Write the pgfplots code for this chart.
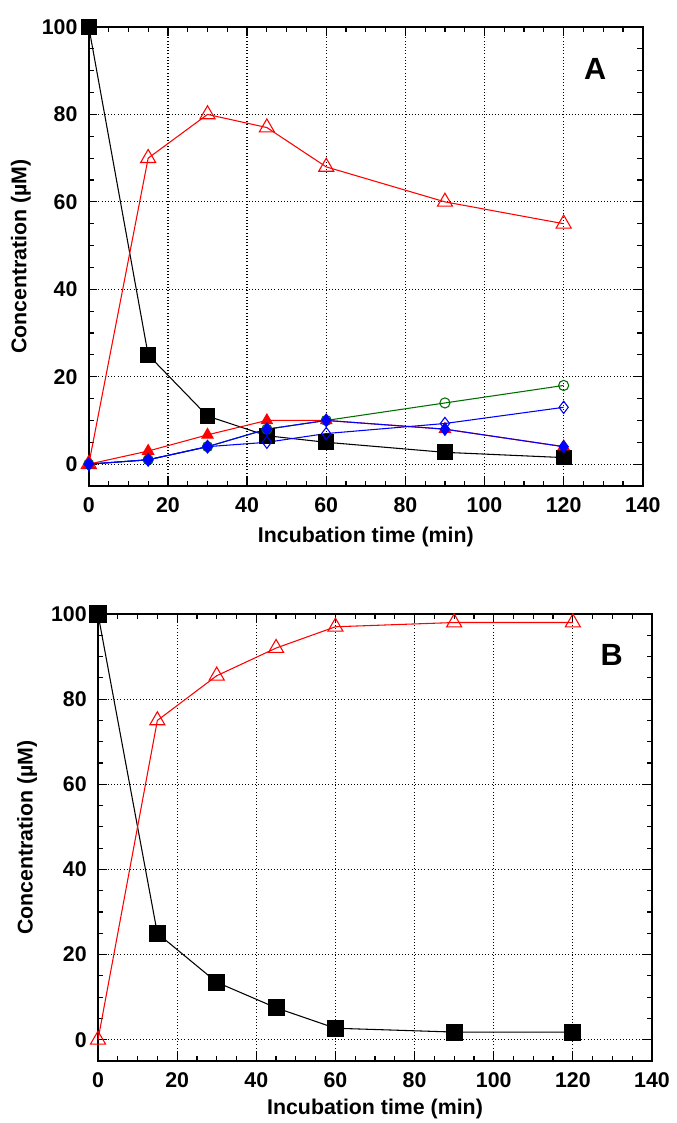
\documentclass[border=0pt]{standalone}
\usepackage{pgfplots}
\pgfplotsset{compat=1.18}
\usepackage{fontspec}
\setmainfont{Liberation Sans}
\definecolor{dgreen}{RGB}{0,110,0}
\pgfplotsset{
  myaxis/.style={
    scale only axis, clip=false,
    xmin=0, xmax=140, ymin=-5, ymax=100,
    xtick={0,20,...,140}, ytick={0,20,...,100},
    minor x tick num=3, minor y tick num=3,
    tick align=inside, tick pos=both, ticklabel pos=left,
    major tick length=6.5pt, minor tick length=4pt,
    grid=major,
    major grid style={black, dotted, line width=0.9pt},
    axis line style={line width=1.2pt},
    tick style={black, line width=0.9pt},
    /pgf/number format/assume math mode=true,
    every tick label/.append style={font=\fontsize{16}{19}\selectfont\bfseries},
    xticklabel style={yshift=-5pt},
    yticklabel style={xshift=-5pt},
    xlabel={Incubation time (min)},
    ylabel={Concentration (µM)},
    label style={font=\fontsize{16}{19}\selectfont\bfseries},
    xlabel style={at={(axis description cs:0.5,0)}, anchor=center, yshift=-38pt},
    ylabel style={at={(axis description cs:-0.1227,0.5)}, anchor=center},
  },
  blk/.style={black, line width=0.8pt, mark=square*, mark size=5.5pt, mark options={solid, fill=black}},
  ropen/.style={red, line width=0.8pt, mark=triangle, mark size=6.5pt, mark options={solid, line width=0.8pt, fill=white}},
  rfill/.style={red, line width=0.8pt, mark=triangle*, mark size=4.8pt, mark options={solid, fill=red}},
  gopen/.style={dgreen, line width=0.8pt, mark=o, mark size=3.8pt, mark options={solid, line width=0.8pt}},
  bopen/.style={blue, line width=0.8pt, mark=diamond, mark size=4.6pt, mark options={solid, line width=0.8pt}},
  bfill/.style={blue, line width=0.8pt, mark=diamond*, mark size=4.6pt, mark options={solid, fill=blue}},
}
\begin{document}
\begin{tikzpicture}
\useasboundingbox (0,0) rectangle (507.75pt,-842.25pt);
% Panel A
\begin{axis}[myaxis, at={(66.6pt,-20.25pt)}, anchor=north west, width=415.5pt, height=344.25pt]
\addplot[blk] coordinates {(0,100)(15,25)(30,11)(45,6.5)(60,5)(90,2.7)(120,1.5)};
\addplot[ropen] coordinates {(0,0)(15,70)(30,80)(45,77)(60,68)(90,60)(120,55)};
\addplot[gopen] coordinates {(0,0)(15,1)(30,4)(45,8)(60,10)(90,14)(120,18)};
\addplot[bopen] coordinates {(0,0)(15,1)(30,4)(45,5)(60,7)(90,9.3)(120,13)};
\addplot[rfill] coordinates {(0,0)(15,3)(30,6.7)(45,10)(60,10)(90,8)(120,4)};
\addplot[bfill] coordinates {(0,0)(15,1)(30,4)(45,8)(60,10)(90,8)(120,4)};
\node[font=\fontsize{23}{26}\selectfont\bfseries] at (axis cs:128,90.5) {A};
\end{axis}
% Panel B
\begin{axis}[myaxis, at={(73.5pt,-460.5pt)}, anchor=north west, width=415.5pt, height=335.25pt,
  xlabel style={yshift=2pt}, ylabel style={at={(axis description cs:-0.128,0.5)}}]
\addplot[blk, mark size=6pt] coordinates {(0,100)(15,25)(30,13.5)(45,7.5)(60,2.7)(90,1.8)(120,1.8)};
\addplot[ropen] coordinates {(0,0)(15,75)(30,85.5)(45,92)(60,97)(90,98)(120,98)};
\node[font=\fontsize{23}{26}\selectfont\bfseries] at (axis cs:129.8,90.4) {B};
\end{axis}
\end{tikzpicture}
\end{document}
